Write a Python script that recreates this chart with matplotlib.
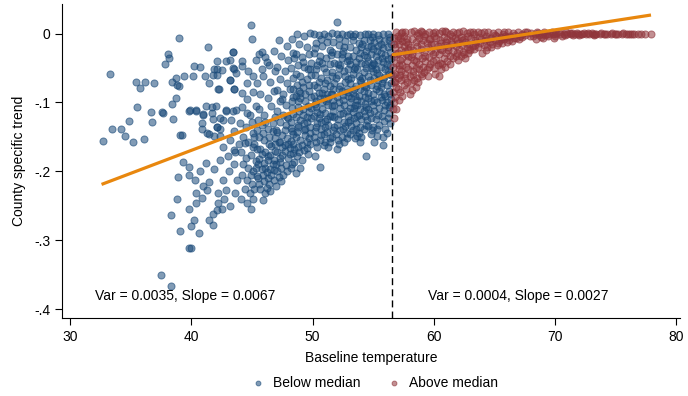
import numpy as np
import matplotlib.pyplot as plt

plt.rcParams['font.family'] = ['Liberation Sans', 'DejaVu Sans']

# below-median counties, sparse left part
blue_left = [(39.0,-0.007),(41.35,-0.020),(38.1,-0.030),(38.2,-0.035),(37.8,-0.044),(33.3,-0.058),(35.4,-0.070),
    (36.2,-0.070),(36.9,-0.071),(35.8,-0.079),(40.2,-0.047),(40.7,-0.048),(41.1,-0.061),(40.1,-0.061),(39.4,-0.061),
    (38.7,-0.065),(38.4,-0.070),(38.8,-0.075),(39.0,-0.076),(38.7,-0.093),(38.4,-0.102),(35.5,-0.107),(36.7,-0.114),
    (37.6,-0.114),(37.7,-0.116),(36.8,-0.128),(34.9,-0.127),(33.5,-0.138),(34.2,-0.139),(34.5,-0.148),(32.7,-0.156),
    (35.2,-0.158),(36.1,-0.153),(38.5,-0.124),(39.2,-0.147),(39.8,-0.112),(40.4,-0.112),(41.2,-0.105),(42.0,-0.105),
    (42.9,-0.112),(43.4,-0.113),(41.7,-0.116),(41.0,-0.117),(41.8,-0.124),(42.4,-0.123),(40.9,-0.130),(42.1,-0.135),
    (42.4,-0.138),(40.9,-0.138),(41.5,-0.146),(41.9,-0.149),(43.3,-0.125),(42.1,-0.040),(42.3,-0.081),(43.5,-0.081),
    (41.9,-0.051),(42.1,-0.052),(42.5,-0.053),(41.8,-0.060),(42.1,-0.060),(41.5,-0.071),(42.9,-0.040),(43.4,-0.026),
    (43.2,-0.068),(43.4,-0.050),(44.9,0.013),(45.0,-0.008),(43.4,-0.026),(43.2,-0.038),(44.2,-0.040),(44.2,-0.047),
    (43.5,-0.052),(43.7,-0.057),(44.7,-0.055),(45.1,-0.062),(45.8,-0.027),(45.3,-0.038),(46.1,-0.034),(46.4,-0.045),
    (45.8,-0.052),(43.2,-0.068),(43.5,-0.081),(44.2,-0.086),(44.6,-0.072),(42.2,-0.081),(41.7,-0.106),(39.9,-0.111),
    (40.4,-0.111),(41.0,-0.118),(39.1,-0.147),(41.3,-0.144),(42.1,-0.135),(42.6,-0.125),(42.9,-0.111),(43.7,-0.111),
    (44.2,-0.106),(44.6,-0.115),(44.0,-0.130),(43.5,-0.142),(43.2,-0.154),(42.4,-0.149),(42.6,-0.164),(43.5,-0.169),
    (44.4,-0.159),(45.1,-0.144),(45.1,-0.164)]

# below-median counties, lower tail
blue_tail = [(38.8,-0.240),(38.3,-0.263),(39.1,-0.286),(39.8,-0.312),(40.0,-0.312),(37.5,-0.350),(38.3,-0.366),
    (40.6,-0.290),(40.0,-0.279),(40.2,-0.270),(39.8,-0.254),(40.4,-0.246),(41.5,-0.271),(41.8,-0.278),(40.4,-0.232),
    (40.9,-0.239),(42.2,-0.246),(42.5,-0.254),(42.1,-0.256),(38.9,-0.208),(39.8,-0.193),(39.3,-0.186),(39.8,-0.205),
    (40.3,-0.212),(41.0,-0.222),(41.3,-0.227),(42.2,-0.232),(42.9,-0.227),(43.6,-0.231),(41.8,-0.262),(42.7,-0.240),
    (43.2,-0.250),(41.5,-0.215),(42.6,-0.212),(43.1,-0.200),(43.8,-0.212),(41.9,-0.196),(42.4,-0.183),(43.0,-0.178),
    (43.5,-0.190),(40.7,-0.200),(41.2,-0.188),(43.9,-0.160),(43.6,-0.172),
    (44.1,-0.172),(44.5,-0.180),(44.9,-0.176),(45.3,-0.185),(44.3,-0.190),(44.7,-0.195),(45.1,-0.200),(45.4,-0.168),
    (44.2,-0.205),(44.6,-0.212),(45.0,-0.218),(45.4,-0.207),(44.4,-0.225),(44.8,-0.232),(45.2,-0.226),(44.1,-0.240),
    (44.6,-0.246),(45.1,-0.240),(44.9,-0.255),(44.3,-0.150),(44.7,-0.158),(45.2,-0.150),(44.5,-0.135),(45.0,-0.128),
    (45.4,-0.140),(44.8,-0.118),(45.3,-0.105),(44.6,-0.095),(45.1,-0.085),(45.4,-0.072)]

# below-median counties, dense core
blue_core = [(45.6,-0.030),(46.2,-0.041),(46.8,-0.025),(45.9,-0.062),(46.5,-0.070),(46.9,-0.055),(45.7,-0.088),
    (46.3,-0.094),(46.8,-0.083),(45.6,-0.110),(46.0,-0.118),(46.6,-0.105),(46.9,-0.121),(45.8,-0.132),(46.3,-0.138),
    (46.7,-0.142),(45.6,-0.150),(46.0,-0.155),(46.4,-0.160),(46.9,-0.152),(45.7,-0.168),(46.1,-0.172),(46.5,-0.176),
    (46.9,-0.170),(45.6,-0.182),(46.0,-0.188),(46.3,-0.184),(46.7,-0.190),(45.8,-0.196),(46.2,-0.201),(46.6,-0.205),
    (45.5,-0.210),(46.0,-0.214),(46.4,-0.219),(45.7,-0.226),(46.1,-0.232),(45.9,-0.241),(46.5,-0.228),(46.8,-0.198),
    (46.6,-0.163),
    (47.2,-0.010),(47.9,-0.018),(48.3,-0.008),(47.4,-0.032),(48.0,-0.038),(48.4,-0.028),(47.1,-0.048),(47.7,-0.055),
    (48.2,-0.050),(47.3,-0.066),(47.9,-0.071),(48.4,-0.064),(47.1,-0.082),(47.6,-0.087),(48.1,-0.080),(48.4,-0.092),
    (47.3,-0.098),(47.8,-0.103),(48.3,-0.108),(47.1,-0.113),(47.6,-0.118),(48.0,-0.122),(48.4,-0.117),(47.3,-0.128),
    (47.8,-0.133),(48.2,-0.137),(47.1,-0.143),(47.5,-0.147),(47.9,-0.151),(48.4,-0.146),(47.3,-0.158),(47.7,-0.162),
    (48.1,-0.166),(47.1,-0.172),(47.5,-0.176),(48.0,-0.180),(48.4,-0.173),(47.3,-0.186),(47.8,-0.191),(47.1,-0.199),
    (47.6,-0.205),(48.2,-0.195),(47.4,-0.214),(47.9,-0.121),(47.5,-0.095),(48.2,-0.156),(47.7,-0.140),(47.2,-0.157),
    (48.3,-0.189),(47.0,-0.221),
    (48.7,0.000),(49.3,-0.004),(49.8,0.001),(48.9,-0.015),(49.5,-0.020),(48.6,-0.030),(49.1,-0.034),(49.7,-0.029),
    (48.8,-0.045),(49.3,-0.049),(49.9,-0.043),(48.6,-0.058),(49.0,-0.062),(49.5,-0.066),(49.9,-0.060),(48.7,-0.074),
    (49.2,-0.078),(49.7,-0.083),(48.6,-0.090),(49.0,-0.094),(49.4,-0.098),(49.9,-0.092),(48.8,-0.106),(49.2,-0.110),
    (49.7,-0.114),(48.6,-0.121),(49.0,-0.125),(49.5,-0.129),(49.9,-0.122),(48.8,-0.136),(49.3,-0.140),(49.8,-0.144),
    (48.6,-0.150),(49.0,-0.154),(49.5,-0.158),(48.8,-0.165),(49.3,-0.169),(49.8,-0.160),(48.7,-0.178),(49.1,-0.183),
    (49.6,-0.175),(49.0,-0.195),(48.6,-0.203),(49.4,-0.088),(48.9,-0.083),(49.6,-0.105),(49.2,-0.118),(49.8,-0.135),
    (48.7,-0.143),(49.4,-0.147),(49.1,-0.070),(49.6,-0.052),(48.8,-0.098),(49.3,-0.130),(49.9,-0.108),
    (50.1,0.000),(50.5,-0.002),(50.9,0.000),(51.3,-0.003),(50.3,-0.014),(50.8,-0.018),(51.2,-0.012),(50.1,-0.028),
    (50.6,-0.032),(51.1,-0.036),(50.4,-0.045),(50.9,-0.050),(51.4,-0.044),(50.2,-0.060),(50.7,-0.064),(51.2,-0.068),
    (50.4,-0.077),(50.9,-0.081),(51.4,-0.076),(50.1,-0.090),(50.6,-0.094),(51.1,-0.098),(50.3,-0.106),(50.8,-0.110),
    (51.3,-0.104),(50.1,-0.119),(50.5,-0.123),(51.0,-0.127),(51.4,-0.120),(50.3,-0.135),(50.7,-0.139),(51.2,-0.143),
    (50.1,-0.150),(50.6,-0.154),(51.0,-0.158),(51.4,-0.151),(50.4,-0.165),(50.9,-0.162),(50.6,-0.193),(50.2,-0.178),
    (50.8,-0.086),(51.2,-0.088),(50.5,-0.070),(50.3,-0.098),(51.0,-0.115),(50.7,-0.128),(51.3,-0.132),(50.2,-0.142),
    (50.9,-0.146),(51.1,-0.056),(50.5,-0.040),(51.4,-0.024),(50.8,-0.100),(50.4,-0.114),(51.3,-0.164),
    (51.6,0.001),(52.0,-0.001),(52.4,0.000),(52.8,-0.002),(52.0,0.017),(51.7,-0.012),(52.2,-0.016),(52.7,-0.011),
    (51.6,-0.026),(52.0,-0.030),(52.5,-0.025),(52.9,-0.033),(51.8,-0.042),(52.3,-0.046),(52.8,-0.040),(51.6,-0.056),
    (52.1,-0.060),(52.6,-0.055),(52.9,-0.066),(51.8,-0.072),(52.3,-0.076),(52.8,-0.080),(51.6,-0.088),(52.0,-0.092),
    (52.5,-0.096),(52.9,-0.090),(51.8,-0.104),(52.3,-0.108),(52.8,-0.112),(51.6,-0.120),(52.1,-0.124),(52.6,-0.128),
    (52.9,-0.120),(51.8,-0.136),(52.3,-0.140),(52.8,-0.144),(51.6,-0.150),(52.1,-0.155),(52.6,-0.158),(52.0,-0.168),
    (52.4,-0.084),(51.9,-0.064),(52.7,-0.070),(52.2,-0.100),(51.7,-0.113),(52.5,-0.116),(52.0,-0.132),(52.7,-0.134),
    (51.9,-0.146),(52.4,-0.150),(52.9,-0.052),(52.4,-0.036),(51.7,-0.096),(52.6,-0.104),(52.2,-0.050),
    (53.1,-0.001),(53.5,0.000),(53.9,-0.002),(54.3,0.000),(53.3,-0.010),(53.8,-0.013),(54.2,-0.009),(53.1,-0.020),
    (53.6,-0.024),(54.0,-0.019),(54.4,-0.025),(53.3,-0.032),(53.8,-0.036),(54.2,-0.031),(53.1,-0.044),(53.5,-0.048),
    (54.0,-0.042),(54.4,-0.050),(53.3,-0.058),(53.8,-0.062),(54.2,-0.056),(53.1,-0.072),(53.6,-0.076),(54.0,-0.070),
    (54.4,-0.078),(53.3,-0.086),(53.8,-0.090),(54.2,-0.084),(53.1,-0.100),(53.5,-0.104),(54.0,-0.098),(54.4,-0.106),
    (53.3,-0.114),(53.8,-0.118),(54.2,-0.112),(53.1,-0.126),(53.6,-0.130),(54.0,-0.124),(54.4,-0.132),(53.3,-0.140),
    (53.8,-0.144),(54.2,-0.138),(53.5,-0.152),(54.0,-0.150),(54.4,-0.178),(53.9,-0.158),(53.2,-0.065),(53.7,-0.052),
    (54.1,-0.064),(53.4,-0.080),(53.9,-0.080),(53.2,-0.093),(53.7,-0.096),(54.3,-0.092),(53.4,-0.108),(53.9,-0.110),
    (53.2,-0.134),(53.7,-0.120),(54.3,-0.120),(53.6,-0.138),
    (54.6,-0.001),(55.0,0.000),(55.4,-0.002),(55.8,0.000),(56.2,-0.001),(54.7,-0.010),(55.1,-0.012),(55.5,-0.008),
    (55.9,-0.011),(56.3,-0.009),(54.6,-0.020),(55.0,-0.022),(55.4,-0.018),(55.8,-0.021),(56.2,-0.019),(56.5,-0.015),
    (54.8,-0.030),(55.2,-0.032),(55.6,-0.028),(56.0,-0.031),(56.4,-0.027),(54.6,-0.040),(55.0,-0.042),(55.4,-0.038),
    (55.8,-0.041),(56.2,-0.037),(54.8,-0.050),(55.2,-0.052),(55.6,-0.048),(56.0,-0.051),(56.4,-0.047),(54.6,-0.062),
    (55.1,-0.064),(55.5,-0.060),(55.9,-0.063),(56.3,-0.059),(54.8,-0.074),(55.3,-0.076),(55.7,-0.072),(56.1,-0.075),
    (56.5,-0.071),(54.6,-0.086),(55.0,-0.088),(55.5,-0.084),(55.9,-0.087),(56.3,-0.083),(54.8,-0.098),(55.3,-0.100),
    (55.7,-0.096),(56.1,-0.099),(56.5,-0.095),(54.6,-0.110),(55.1,-0.112),(55.5,-0.108),(55.9,-0.111),(56.3,-0.107),
    (54.8,-0.122),(55.2,-0.124),(55.7,-0.120),(56.2,-0.123),(54.6,-0.134),(55.0,-0.136),(55.5,-0.132),(56.0,-0.138),
    (56.4,-0.130),(54.8,-0.146),(55.3,-0.148),(55.8,-0.150),(55.1,-0.158),(55.8,-0.162),(54.9,-0.005),(55.3,-0.025),
    (55.7,-0.035),(56.1,-0.044),(55.0,-0.055),(55.4,-0.068),(56.4,-0.088),(55.6,-0.092),(56.0,-0.104),(55.0,-0.104)]

# below-median counties, extra points where the cloud is darkest
blue_dense = [(48.5,-0.036),(49.2,-0.041),(49.8,-0.052),(48.4,-0.080),(49.0,-0.086),(49.7,-0.075),(48.3,-0.098),
    (48.9,-0.113),(49.5,-0.121),(48.2,-0.128),(48.8,-0.133),(49.4,-0.138),(48.4,-0.160),(49.1,-0.162),(49.7,-0.152),
    (48.3,-0.141),(48.9,-0.172),(49.5,-0.166),(48.5,-0.186),(48.1,-0.175),
    (50.2,-0.021),(50.7,-0.008),(51.5,-0.031),(50.3,-0.052),(50.8,-0.043),(51.6,-0.062),(50.1,-0.074),(51.0,-0.072),
    (51.7,-0.080),(50.5,-0.086),(51.3,-0.093),(50.2,-0.102),(50.9,-0.093),(51.6,-0.105),(50.6,-0.117),(51.2,-0.124),
    (50.4,-0.130),(51.0,-0.136),(51.7,-0.140),(50.7,-0.147),(51.4,-0.157),(50.3,-0.158),(51.8,-0.121),(51.5,-0.088),
    (52.2,-0.006),(52.6,-0.020),(53.3,-0.003),(53.9,-0.028),(52.4,-0.030),(53.0,-0.038),(53.6,-0.041),(52.1,-0.044),
    (52.7,-0.062),(53.4,-0.052),(53.9,-0.068),(52.2,-0.080),(52.9,-0.085),(53.5,-0.090),(52.5,-0.089),(53.1,-0.108),
    (53.7,-0.103),(52.3,-0.117),(52.9,-0.128),(53.4,-0.122),(53.9,-0.135),(52.5,-0.138),(53.1,-0.146),(53.7,-0.148),
    (52.8,-0.152),(52.2,-0.161),
    (54.1,-0.015),(54.5,-0.034),(54.9,-0.045),(55.3,-0.057),(55.8,-0.066),(56.2,-0.054),(54.3,-0.044),(54.7,-0.068),
    (55.2,-0.080),(55.6,-0.078),(56.0,-0.091),(56.4,-0.103),(54.2,-0.076),(54.6,-0.093),(55.1,-0.096),(55.4,-0.118),
    (55.9,-0.127),(56.3,-0.115),(54.3,-0.102),(54.7,-0.115),(55.3,-0.138),(56.1,-0.145),(54.5,-0.125),(54.9,-0.140),
    (56.5,-0.035),(56.5,-0.060),(56.4,-0.005),(55.6,-0.015),(55.1,-0.044),(54.8,-0.018),
    (45.2,-0.160),(45.8,-0.175),(46.3,-0.178),(46.8,-0.184),(47.3,-0.180),(47.7,-0.170),(45.5,-0.190),(46.1,-0.195),
    (46.5,-0.197),(47.0,-0.190),(47.4,-0.195),(47.9,-0.200),(45.9,-0.205),(46.3,-0.210),(46.8,-0.212),(47.2,-0.208),
    (45.3,-0.195),(44.9,-0.205),(45.6,-0.218),(46.2,-0.224),(46.9,-0.160),(47.5,-0.165),(48.0,-0.160),(48.5,-0.168),
    (46.4,-0.150),(47.0,-0.140),(45.9,-0.145),(45.5,-0.125),(46.1,-0.128),(46.7,-0.130)]

# above-median counties
red_pts = [(56.6,-0.110),(56.7,-0.100),(56.8,-0.092),(56.6,-0.085),(56.9,-0.078),(56.7,-0.070),(57.0,-0.064),
    (56.8,-0.058),(57.1,-0.052),(56.6,-0.048),(56.9,-0.042),(57.2,-0.038),(56.7,-0.033),(57.0,-0.028),(57.3,-0.024),
    (56.8,-0.019),(57.1,-0.015),(57.4,-0.011),(56.7,-0.007),(57.0,-0.003),(57.3,0.001),(57.6,0.003),(56.9,0.002),
    (57.5,-0.018),(57.7,-0.030),(57.4,-0.045),(57.6,-0.058),(57.3,-0.068),(57.5,-0.075),(57.2,-0.085),(57.8,-0.070),
    (57.9,-0.052),(57.8,-0.040),(57.9,-0.022),(57.8,-0.008),(57.6,-0.064),(57.1,-0.097),(57.4,-0.090),(56.7,-0.122),
    (56.6,-0.060),(56.8,-0.070),(57.0,-0.080),(57.2,-0.006),(57.5,-0.004),(57.7,-0.012),(57.2,-0.060),(56.9,-0.110),
    (57.4,-0.035),(57.9,-0.033),(57.7,-0.048),
    (58.1,0.002),(58.4,0.004),(58.7,0.001),(59.0,0.003),(59.3,0.000),(59.6,0.002),(59.9,0.001),(58.2,-0.008),
    (58.5,-0.012),(58.8,-0.006),(59.1,-0.010),(59.4,-0.014),(59.7,-0.008),(58.0,-0.020),(58.3,-0.024),(58.6,-0.018),
    (58.9,-0.022),(59.2,-0.026),(59.5,-0.020),(59.8,-0.024),(58.1,-0.034),(58.4,-0.038),(58.7,-0.032),(59.0,-0.036),
    (59.3,-0.040),(59.6,-0.034),(59.9,-0.030),(58.2,-0.046),(58.5,-0.050),(58.8,-0.044),(59.1,-0.048),(59.4,-0.052),
    (58.3,-0.060),(58.6,-0.064),(58.9,-0.058),(58.1,-0.072),(58.4,-0.068),(59.0,-0.062),(58.2,-0.082),(58.5,-0.078),
    (59.7,-0.044),(59.2,-0.004),(58.6,-0.002),(59.8,-0.015),(59.5,-0.062),
    (60.1,0.003),(60.4,0.001),(60.7,0.004),(61.0,0.002),(61.3,0.000),(61.6,0.003),(61.9,0.001),(60.2,-0.006),
    (60.5,-0.009),(60.8,-0.005),(61.1,-0.008),(61.4,-0.011),(61.7,-0.006),(60.0,-0.015),(60.3,-0.018),(60.6,-0.014),
    (60.9,-0.017),(61.2,-0.020),(61.5,-0.015),(61.8,-0.018),(60.1,-0.026),(60.4,-0.030),(60.7,-0.024),(61.0,-0.028),
    (61.3,-0.032),(61.6,-0.025),(60.2,-0.038),(60.5,-0.042),(60.8,-0.036),(61.1,-0.040),(60.0,-0.050),(60.3,-0.046),
    (60.6,-0.052),(60.9,-0.048),(61.6,-0.036),(61.9,-0.028),(61.3,-0.044),(60.1,-0.058),(61.9,-0.010),(60.4,-0.062),
    (62.1,0.002),(62.4,0.004),(62.7,0.001),(63.0,0.003),(63.3,0.000),(63.6,0.002),(63.9,0.001),(62.2,-0.005),
    (62.5,-0.008),(62.8,-0.004),(63.1,-0.007),(63.4,-0.010),(63.7,-0.005),(62.0,-0.013),(62.3,-0.016),(62.6,-0.012),
    (62.9,-0.015),(63.2,-0.018),(63.5,-0.012),(63.8,-0.014),(62.1,-0.022),(62.4,-0.026),(62.7,-0.020),(63.0,-0.024),
    (63.3,-0.022),(62.2,-0.032),(62.5,-0.030),(62.0,-0.038),(63.6,-0.020),(62.8,-0.028),
    (64.1,0.002),(64.5,0.003),(64.9,0.001),(65.3,0.002),(65.7,0.000),(66.1,0.002),(66.5,0.001),(66.9,0.003),
    (67.3,0.000),(67.7,0.002),(64.3,-0.004),(64.7,-0.006),(65.1,-0.003),(65.5,-0.005),(65.9,-0.003),(66.3,-0.004),
    (66.7,-0.002),(67.1,-0.003),(67.5,-0.002),(64.2,-0.010),(64.6,-0.012),(65.0,-0.009),(65.4,-0.011),(65.8,-0.008),
    (66.2,-0.009),(66.6,-0.007),(64.1,-0.016),(64.4,-0.019),(64.8,-0.015),(65.2,-0.017),(65.6,-0.013),(64.3,-0.024),
    (64.0,-0.028),(67.9,-0.004),(66.0,-0.012),
    (68.0,0.001),(68.3,-0.001),(68.6,0.001),(68.9,0.000),(69.2,-0.002),(69.5,0.000),(69.8,-0.001),(70.1,0.001),
    (70.4,-0.001),(70.7,0.000),(71.0,-0.001),(71.3,0.000),(71.6,-0.001),(71.9,0.000),(72.2,0.000),(72.5,-0.001),
    (72.8,0.000),(73.1,0.000),(73.4,-0.001),(73.7,0.000),(68.2,-0.004),(68.8,-0.005),(69.4,-0.004),(70.0,-0.003),
    (70.6,-0.003),(68.5,0.003),(69.1,0.002),(69.7,0.002),(70.3,0.002),(71.2,0.001),(71.8,0.001),(72.4,0.001),
    (73.0,0.001),(68.4,-0.008),(69.0,-0.007),(71.5,-0.002),(72.0,-0.002),(73.2,-0.002),(70.9,0.002),(69.9,-0.006),
    (74.0,0.000),(74.3,0.000),(74.6,0.000),(74.9,0.000),(75.2,0.000),(75.5,0.000),(75.8,0.000),(76.0,0.000),
    (76.2,0.000),(76.5,0.000),(76.8,0.000),(77.1,0.000),(77.4,0.000),(77.9,0.000),(74.1,-0.001),(74.7,0.001),
    (75.0,-0.001),(75.6,0.001),(76.3,-0.001),(73.8,0.001)]

# above-median counties, extra points where the cloud is darkest
red_dense = [(56.7,-0.015),(56.9,-0.030),(57.1,-0.045),(57.3,-0.055),(57.0,-0.010),(57.6,-0.025),(57.9,-0.015),
    (58.2,-0.030),(58.5,-0.040),(58.8,-0.052),(58.3,-0.054),(58.0,-0.062),(57.7,-0.080),(58.0,-0.088),(58.7,-0.070),
    (59.2,-0.056),(59.6,-0.048),(59.9,-0.040),(59.3,-0.032),(58.9,-0.015),(59.6,-0.008),(60.0,-0.004),(60.5,-0.022),
    (61.0,-0.012),(61.5,-0.004),(61.2,-0.024),(60.7,-0.044),(61.8,-0.033),(62.3,-0.010),(62.9,-0.022),(63.4,-0.016),
    (63.9,-0.008),(62.6,-0.035),(64.5,-0.008),(65.0,-0.002),(65.5,-0.008),(66.0,-0.005),(66.8,-0.006),(67.3,-0.005),
    (64.7,-0.020),(65.3,-0.014),(66.4,-0.011),(67.0,-0.008),(68.7,-0.002),(69.3,0.000),(70.0,-0.001),(70.8,-0.002),
    (71.4,0.001),(72.1,-0.001),(72.7,0.001),(73.3,0.000),(57.4,0.003),(58.9,0.004),(60.9,0.004),(63.2,0.003),
    (65.8,0.003),(67.5,0.002)]

# fitted lines and median split
fit_below_x = [32.6, 56.55]
fit_below_y = [-0.219, -0.059]
fit_above_x = [56.55, 77.9]
fit_above_y = [-0.031, 0.027]
median_temp = 56.55
note_below = 'Var = 0.0035, Slope = 0.0067'
note_above = 'Var = 0.0004, Slope = 0.0027'

orange = '#e8870e'
blue_face = (0.102, 0.290, 0.475, 0.55)
blue_edge = (0.102, 0.290, 0.475, 0.62)
red_face = (0.565, 0.208, 0.231, 0.55)
red_edge = (0.565, 0.208, 0.231, 0.62)

fig = plt.figure(figsize=(6.88, 3.96), dpi=100)
ax = fig.add_axes([62/688, 78/396, 618/688, 314/396])

bx, by = np.array(blue_left + blue_tail + blue_core + blue_dense).T
rx, ry = np.array(red_pts + red_dense).T
ax.scatter(bx, by, s=26, facecolors=[blue_face], edgecolors=[blue_edge], linewidths=0.7, zorder=2)
ax.scatter(rx, ry, s=26, facecolors=[red_face], edgecolors=[red_edge], linewidths=0.7, zorder=2)
ax.plot(fit_below_x, fit_below_y, color=orange, lw=2.3, zorder=3, solid_capstyle='butt')
ax.plot(fit_above_x, fit_above_y, color=orange, lw=2.3, zorder=3, solid_capstyle='butt')
ax.axvline(median_temp, color='black', lw=1, dashes=(5, 3), zorder=4)

ax.text(32.1, -0.381, note_below, fontsize=10, va='center', ha='left')
ax.text(59.5, -0.381, note_above, fontsize=10, va='center', ha='left')

ax.set_xlim(29.34, 80.29)
ax.set_ylim(-0.413, 0.043)
ax.set_xticks([30, 40, 50, 60, 70, 80])
ax.set_yticks([0, -0.1, -0.2, -0.3, -0.4])
ax.set_yticklabels(['0', '-.1', '-.2', '-.3', '-.4'])
ax.tick_params(labelsize=10, length=5, width=0.8, color='black')
for side in ['top', 'right']:
    ax.spines[side].set_visible(False)
for side in ['left', 'bottom']:
    ax.spines[side].set_linewidth(0.8)
ax.set_xlabel('Baseline temperature', fontsize=10, labelpad=5)
ax.set_ylabel('County specific trend', fontsize=10, labelpad=6)

h1 = ax.scatter([], [], s=12, facecolors=[blue_face], edgecolors=[blue_edge], linewidths=0.7)
h2 = ax.scatter([], [], s=12, facecolors=[red_face], edgecolors=[red_edge], linewidths=0.7)
fig.legend([h1, h2], ['Below median', 'Above median'], loc='center', bbox_to_anchor=(371/688, 13/396),
           ncol=2, frameon=False, fontsize=10, handletextpad=0.1, columnspacing=1.4)

fig.savefig('out.png', dpi=100)
